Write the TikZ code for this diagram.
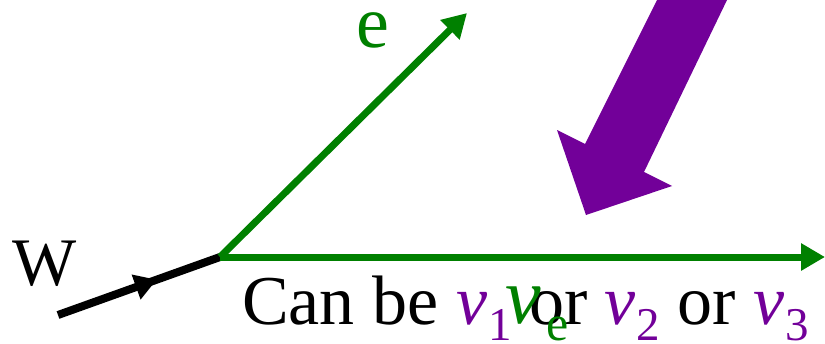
\documentclass[tikz,border=0pt]{standalone}
\usepackage{fontspec}
\setmainfont{Liberation Serif}
\usetikzlibrary{arrows.meta,decorations.markings}
\definecolor{lgreen}{RGB}{0,128,0}
\definecolor{lpurple}{RGB}{114,0,153}
\newcommand{\nusub}[1]{{\color{lpurple}\textit{ν}\kern1pt\raisebox{-16pt}{\fontsize{47}{55}\selectfont #1}}}
\tikzset{
  lepton/.style={draw=lgreen, line width=7pt, -{Triangle[length=24pt,width=26pt]}},
  boson/.style={draw=black, line width=8pt, postaction={decorate},
    decoration={markings, mark=at position 0.61 with {\arrow{Triangle[length=22pt,width=25pt]}}}},
  lbl/.style={inner sep=0pt, anchor=base west}
}
\begin{document}
\begin{tikzpicture}[x=1pt,y=-1pt]
\useasboundingbox (0,0) rectangle (825,343);
\coordinate (O) at (220,257);
\coordinate (W0) at (58,315);
\coordinate (E) at (467,13);
\coordinate (R) at (825,257);
\draw[boson] (W0) -- (O);
\draw[lepton] (O) -- (E);
\draw[lepton] (O) -- (R);
\fill[lpurple] (657,0) -- (727,0) -- (644,172) -- (672,186) -- (586,215) -- (557,130) -- (585,144) -- cycle;
\node[lbl, font=\fontsize{68}{80}\selectfont] (wl) at (12,285) {W};
\node[lbl, font=\fontsize{74}{80}\selectfont, text=lgreen, text height=36pt] (el) at (356,47) {e};
\node[lbl, font=\fontsize{70}{84}\selectfont] (cb) at (242,324) {Can be \nusub{1} or \nusub{2} or \nusub{3}};
\node[lbl, font=\fontsize{80}{90}\selectfont, text=lgreen] (nue) at (505,323) {\textit{ν}\kern6pt\raisebox{-17pt}{\fontsize{50}{60}\selectfont e}};
\end{tikzpicture}
\end{document}
